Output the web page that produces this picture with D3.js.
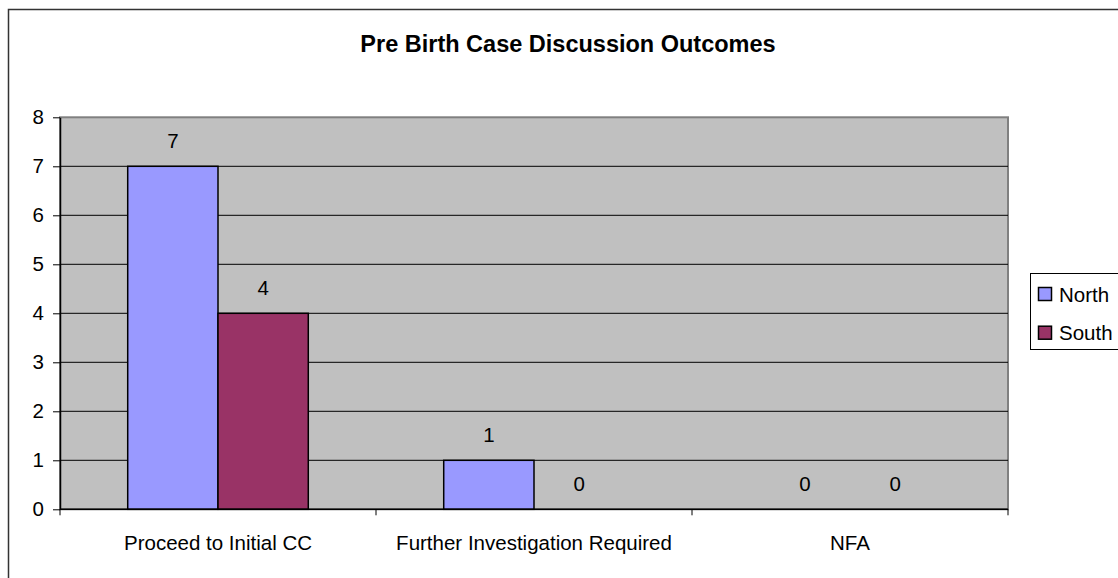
<!DOCTYPE html>
<html>
<head>
<meta charset="utf-8">
<script src="https://cdn.jsdelivr.net/npm/d3@7/dist/d3.min.js"></script>
<style>
  body { margin: 0; background: #fff; }
  svg { display: block; font-family: Arial, "Liberation Sans", sans-serif; }
</style>
</head>
<body>
<div id="chart"></div>
<script>
const width = 1118, height = 578;

// data
const categories = ["Proceed to Initial CC", "Further Investigation Required", "NFA"];
const seriesNames = ["North", "South"];
const north = [7, 1, 0];
const south = [4, 0, 0];
const seriesColors = ["#9999FF", "#993366"];
const yTicks = [0, 1, 2, 3, 4, 5, 6, 7, 8];

const plot = { left: 60, right: 1008, top: 117.3, bottom: 509.3 };

let svg = d3.select("#chart")
  .append("svg")
  .attr("width", width)
  .attr("height", height);

// outer chart border (runs off the right and bottom of the picture)
svg.append("rect")
  .attr("x", 8.5).attr("y", 9.5)
  .attr("width", width + 40).attr("height", height + 40)
  .attr("fill", "#fff")
  .attr("stroke", "#333")
  .attr("stroke-width", 1.5);

svg.append("text")
  .attr("x", 568).attr("y", 51.7)
  .attr("text-anchor", "middle")
  .attr("font-size", "23.5px")
  .attr("font-weight", "bold")
  .text("Pre Birth Case Discussion Outcomes");

let x = d3.scaleBand()
  .domain(categories)
  .range([plot.left, plot.right])
  .paddingInner(0).paddingOuter(0);

// excel style gap width of 150%
let xs = d3.scaleBand()
  .domain(seriesNames)
  .range([0, x.bandwidth()])
  .paddingInner(0).paddingOuter(0.75);

let y = d3.scaleLinear()
  .domain([0, 8])
  .range([plot.bottom, plot.top]);

// plot area
svg.append("rect")
  .attr("x", plot.left).attr("y", plot.top)
  .attr("width", plot.right - plot.left)
  .attr("height", plot.bottom - plot.top)
  .attr("fill", "#C0C0C0")
  .attr("stroke", "#808080")
  .attr("stroke-width", 2);

// gridlines
svg.append("g").selectAll("line")
  .data(yTicks.filter((d) => d > 0 && d < 8))
  .enter().append("line")
  .attr("x1", plot.left).attr("x2", plot.right)
  .attr("y1", (d) => y(d)).attr("y2", (d) => y(d))
  .attr("stroke", "#000")
  .attr("stroke-width", 1);

let rows = categories.map((c, i) => ({ cat: c, values: [north[i], south[i]] }));

let groups = svg.append("g").selectAll("g")
  .data(rows)
  .enter().append("g")
  .attr("transform", (d) => "translate(" + x(d.cat) + ",0)");

groups.selectAll("rect")
  .data((d) => d.values.map((v, j) => ({ name: seriesNames[j], v: v, j: j })))
  .enter().append("rect")
  .filter((d) => d.v > 0)
  .attr("x", (d) => xs(d.name))
  .attr("y", (d) => y(d.v))
  .attr("width", xs.bandwidth())
  .attr("height", (d) => y(0) - y(d.v))
  .attr("fill", (d) => seriesColors[d.j])
  .attr("stroke", "#000")
  .attr("stroke-width", 1.5);

groups.selectAll("text")
  .data((d) => d.values.map((v, j) => ({ name: seriesNames[j], v: v })))
  .enter().append("text")
  .attr("x", (d) => xs(d.name) + xs.bandwidth() / 2)
  .attr("y", (d) => y(d.v) - 18)
  .attr("text-anchor", "middle")
  .attr("font-size", "20.5px")
  .text((d) => d.v);

// y axis
let yAxis = svg.append("g")
  .attr("transform", "translate(" + plot.left + ",0)")
  .call(d3.axisLeft(y).tickValues(yTicks).tickSize(7).tickSizeOuter(0).tickPadding(9).tickFormat(d3.format("d")));
yAxis.select(".domain").attr("stroke", "#000").attr("stroke-width", 1.5);
yAxis.selectAll("text").attr("font-size", "20.5px").attr("fill", "#000").attr("font-family", null);

// x axis: ticks at the category boundaries, labels at the centres
let xAxis = svg.append("g");
xAxis.append("line")
  .attr("x1", plot.left).attr("x2", plot.right)
  .attr("y1", y(0)).attr("y2", y(0))
  .attr("stroke", "#000").attr("stroke-width", 1.5);
xAxis.selectAll("line.tick")
  .data([plot.left].concat(categories.map((c) => x(c) + x.bandwidth())))
  .enter().append("line")
  .attr("class", "tick")
  .attr("x1", (d) => d).attr("x2", (d) => d)
  .attr("y1", y(0)).attr("y2", y(0) + 6)
  .attr("stroke", "#000");
xAxis.selectAll("text")
  .data(categories)
  .enter().append("text")
  .attr("x", (d) => x(d) + x.bandwidth() / 2)
  .attr("y", 549.5)
  .attr("text-anchor", "middle")
  .attr("font-size", "20.5px")
  .text((d) => d);

// legend
let legend = svg.append("g");
legend.append("rect")
  .attr("x", 1030.5).attr("y", 273.5)
  .attr("width", 140).attr("height", 76)
  .attr("fill", "#fff")
  .attr("stroke", "#000");
let items = legend.selectAll("g")
  .data(seriesNames)
  .enter().append("g")
  .attr("transform", (d, i) => "translate(0," + (i * 38.7) + ")");
items.append("rect")
  .attr("x", 1038.5).attr("y", 287.5)
  .attr("width", 13).attr("height", 13)
  .attr("fill", (d, i) => seriesColors[i])
  .attr("stroke", "#000")
  .attr("stroke-width", 1.5);
items.append("text")
  .attr("x", 1059).attr("y", 301.5)
  .attr("font-size", "20.5px")
  .text((d) => d);
</script>
</body>
</html>
